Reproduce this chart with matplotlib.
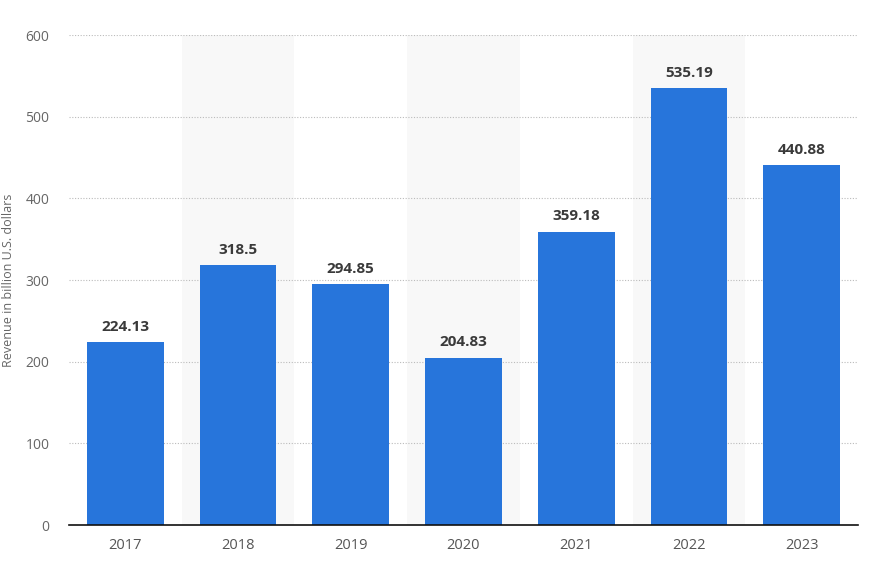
import matplotlib.pyplot as plt

# data
years = ["2017", "2018", "2019", "2020", "2021", "2022", "2023"]
revenue = [224.13, 318.5, 294.85, 204.83, 359.18, 535.19, 440.88]
value_labels = ["224.13", "318.5", "294.85", "204.83", "359.18", "535.19", "440.88"]

plt.rcParams["font.family"] = ["Open Sans", "DejaVu Sans"]

fig = plt.figure(figsize=(8.72, 5.61), dpi=100)
ax = fig.add_axes([0.079, 0.064, 0.905, 0.8736])

x = list(range(len(years)))

# alternating background bands
for i in x:
    if i % 2 == 1:
        ax.axvspan(i - 0.5, i + 0.5, color="#f8f8f8", zorder=0, lw=0)

ax.bar(x, revenue, width=0.68, color="#2775db", zorder=2)

for xi, v, lab in zip(x, revenue, value_labels):
    ax.annotate(lab, (xi, v), xytext=(0, 6), textcoords="offset points",
                ha="center", va="bottom", fontsize=11, fontweight="bold",
                color="#3a3a3a")

ax.set_xlim(-0.5, len(years) - 0.5)
ax.set_ylim(0, 600)
ax.set_yticks(range(0, 601, 100))
ax.set_xticks(x)
ax.set_xticklabels(years)

ax.yaxis.grid(True, linestyle=(0, (1, 1.5)), color="#bbbbbb", linewidth=0.8, zorder=1)
ax.set_axisbelow(True)

for side in ["top", "right", "left"]:
    ax.spines[side].set_visible(False)
ax.spines["bottom"].set_color("#111111")
ax.spines["bottom"].set_linewidth(1.2)
ax.spines["bottom"].set_zorder(3)

ax.tick_params(axis="y", length=0, pad=14, labelsize=10, labelcolor="#666666")
ax.tick_params(axis="x", length=0, pad=9, labelsize=10.5, labelcolor="#555555")

ax.set_ylabel("Revenue in billion U.S. dollars", fontsize=9, color="#666666",
              va="center")
ax.yaxis.set_label_coords(-0.076, 0.5)

fig.savefig("out.png", dpi=100)
